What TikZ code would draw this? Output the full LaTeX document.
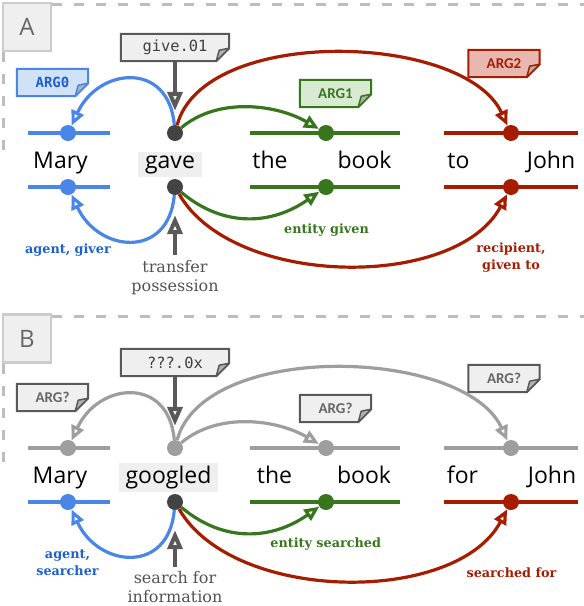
\documentclass[tikz,border=0pt]{standalone}
\usepackage{fontspec}
\usepackage{tikz}
\usetikzlibrary{arrows.meta}
\usetikzlibrary{backgrounds}

\newfontfamily\wordfont{Open Sans}
\newfontfamily\glossfont{DejaVu Serif}
\newfontfamily\framefont{DejaVu Sans Mono}
\newfontfamily\argfont{Carlito}

\definecolor{argblue}{HTML}{4A86E8}
\definecolor{argbluetext}{HTML}{1C5FD0}
\definecolor{argbluefill}{HTML}{CFE2F8}
\definecolor{arggreen}{HTML}{38761D}
\definecolor{arggreenfill}{HTML}{D9EAD3}
\definecolor{argred}{HTML}{A61C00}
\definecolor{argredfill}{HTML}{E6B8AF}
\definecolor{dotgray}{HTML}{434343}
\definecolor{arrowgray}{HTML}{595959}
\definecolor{faint}{HTML}{9E9E9E}
\definecolor{boxfill}{HTML}{EFEFEF}
\definecolor{dashgray}{HTML}{BDBDBD}

% note with a folded corner: name, centre, node options, text, fill, line
\newcommand{\argnote}[6]{%
  \node[notebox,#3] (#1) at (#2) {#4};
  \begin{scope}[on background layer]
    \filldraw[line width=2,fill=#5,draw=#6,line join=miter]
      (#1.north west) -- (#1.north east) -- ([yshift=13]#1.south east)
      -- ([xshift=-13]#1.south east) -- (#1.south west) -- cycle;
    \filldraw[line width=1.5,fill=black!30,draw=#6,line join=round]
      ([yshift=13]#1.south east) -- ([xshift=-10,yshift=11]#1.south east)
      -- ([xshift=-13]#1.south east) -- cycle;
  \end{scope}}

\begin{document}
\begin{tikzpicture}[x=1pt,y=1pt,
  wordline/.style={line width=3.2},
  worddot/.style={circle,inner sep=0,minimum size=16},
  rolearc/.style={line width=3.2,-{Triangle[open,length=15pt,width=13pt]}},
  framearrow/.style={line width=4,arrowgray,-{Triangle[open,length=19pt,width=15pt]}},
  word/.style={font=\wordfont\fontsize{23}{23}\selectfont,inner sep=0,anchor=base},
  verb/.style={word,fill=boxfill,inner xsep=7,inner ysep=3},
  notebox/.style={inner sep=0,minimum height=27,minimum width=71,font=\argfont\bfseries\fontsize{15}{15}\selectfont},
  gloss/.style={font=\glossfont\bfseries\fontsize{12.8}{17}\selectfont,align=center,inner sep=0},
  sense/.style={font=\glossfont\fontsize{16}{19.5}\selectfont,align=center,inner sep=0,text=black!68},
  dashframe/.style={dashgray,line width=3,dash pattern=on 10pt off 12pt},
  panelbox/.style={draw=black!20,line width=2.5,fill=boxfill,minimum size=48,inner sep=0,font=\wordfont\fontsize{24}{24}\selectfont,text=black!60}]
\useasboundingbox (0,0) rectangle (584,-606);

%%% panel A
\draw[dashframe] (52,-4) -- (584,-4);
\draw[dashframe] (3.5,-52) -- (3.5,-155);
\node[panelbox] (panA) at (27,-27) {A};

\argnote{senseA}{175,-47.5}{minimum width=108,font=\framefont\fontsize{15.4}{15.4}\selectfont,text=black!75}{give.01}{boxfill}{arrowgray}
\argnote{argzA}{52.5,-82.5}{font=\framefont\bfseries\fontsize{14}{14}\selectfont,text=argbluetext}{ARG0}{argbluefill}{argblue}
\argnote{argoA}{335.5,-93.5}{text=arggreen}{ARG1}{arggreenfill}{arggreen}
\argnote{argtA}{504,-63.5}{text=argred}{ARG2}{argredfill}{argred}

\node[word] (maryA) at (60.5,-168) {Mary};
\node[verb] (gaveA) at (170,-168) {gave};
\node[word] (theA) at (270,-168) {the};
\node[word] (bookA) at (364.5,-168) {book};
\node[word] (toA) at (458.5,-168) {to};
\node[word] (johnA) at (551,-168) {John};

\draw[wordline,argblue] (28,-133) -- (110,-133);
\draw[wordline,arggreen] (250,-133) -- (400,-133);
\draw[wordline,argred] (444,-133) -- (578,-133);
\draw[wordline,argblue] (28,-187) -- (110,-187);
\draw[wordline,arggreen] (250,-187) -- (400,-187);
\draw[wordline,argred] (444,-187) -- (578,-187);

\node[worddot,fill=argblue] (mA1) at (68,-133) {};
\node[worddot,fill=dotgray] (gA1) at (175,-133) {};
\node[worddot,fill=arggreen] (bA1) at (326,-133) {};
\node[worddot,fill=argred] (jA1) at (511,-133) {};
\node[worddot,fill=argblue] (mA2) at (68,-187) {};
\node[worddot,fill=dotgray] (gA2) at (175,-187) {};
\node[worddot,fill=arggreen] (bA2) at (326,-187) {};
\node[worddot,fill=argred] (jA2) at (511,-187) {};

\draw[rolearc,argblue] (gA1) to[out=95,in=65,looseness=1.6] (mA1);
\draw[rolearc,argred] (gA1) to[out=75,in=115,looseness=0.8] (jA1);
\draw[rolearc,arggreen] (gA1) to[out=40,in=150,looseness=0.9] (bA1);
\draw[rolearc,argblue] (gA2) to[out=-95,in=-65,looseness=1.6] (mA2);
\draw[rolearc,arggreen] (gA2) to[out=-40,in=-145,looseness=1.05] (bA2);
\draw[rolearc,argred] (gA2) to[out=-60,in=-118,looseness=0.85] (jA2);

\node[gloss,text=argbluetext,anchor=base] (agentA) at (68,-253) {agent, giver};
\node[gloss,text=arggreen,anchor=base] (themeA) at (326.5,-233) {entity given};
\node[gloss,text=argred,anchor=north] (recipA) at (511,-243) {recipient,\\given to};
\node[sense,anchor=north] (transA) at (175,-260) {transfer\\possession};

\draw[framearrow,shorten >=14pt] (senseA.south) -- (gA1);
\draw[framearrow,shorten <=5pt,shorten >=20pt] (transA.north) -- (gA2);

%%% panel B
\draw[dashframe] (52,-316) -- (584,-316);
\draw[dashframe] (3.5,-364) -- (3.5,-465);
\node[panelbox] (panB) at (27,-338.5) {B};

\argnote{senseB}{175,-362.5}{minimum width=108,font=\framefont\fontsize{15.4}{15.4}\selectfont,text=black!75}{???.0x}{boxfill}{arrowgray}
\argnote{argzB}{52.5,-397.5}{text=black!60}{ARG?}{boxfill}{arrowgray}
\argnote{argoB}{335.5,-408.5}{text=black!60}{ARG?}{boxfill}{arrowgray}
\argnote{argtB}{504,-378.5}{text=black!60}{ARG?}{boxfill}{arrowgray}

\node[word] (maryB) at (60,-483) {Mary};
\node[verb] (googledB) at (168.5,-483) {googled};
\node[word] (theB) at (274.5,-483) {the};
\node[word] (bookB) at (364,-483) {book};
\node[word] (forB) at (462.5,-483) {for};
\node[word] (johnB) at (552,-483) {John};

\draw[wordline,faint] (28,-448) -- (110,-448);
\draw[wordline,faint] (250,-448) -- (400,-448);
\draw[wordline,faint] (444,-448) -- (578,-448);
\draw[wordline,argblue] (28,-502) -- (110,-502);
\draw[wordline,arggreen] (250,-502) -- (400,-502);
\draw[wordline,argred] (444,-502) -- (578,-502);

\node[worddot,fill=faint] (mB1) at (68,-448) {};
\node[worddot,fill=faint] (gB1) at (175,-448) {};
\node[worddot,fill=faint] (bB1) at (326,-448) {};
\node[worddot,fill=faint] (jB1) at (511,-448) {};
\node[worddot,fill=argblue] (mB2) at (68,-502) {};
\node[worddot,fill=dotgray] (gB2) at (175,-502) {};
\node[worddot,fill=arggreen] (bB2) at (326,-502) {};
\node[worddot,fill=argred] (jB2) at (511,-502) {};

\draw[rolearc,faint] (gB1) to[out=95,in=65,looseness=1.6] (mB1);
\draw[rolearc,faint] (gB1) to[out=75,in=115,looseness=0.8] (jB1);
\draw[rolearc,faint] (gB1) to[out=40,in=150,looseness=0.9] (bB1);
\draw[rolearc,argblue] (gB2) to[out=-95,in=-65,looseness=1.6] (mB2);
\draw[rolearc,arggreen] (gB2) to[out=-40,in=-145,looseness=1.05] (bB2);
\draw[rolearc,argred] (gB2) to[out=-60,in=-118,looseness=0.85] (jB2);

\node[gloss,text=argbluetext,anchor=north] (agentB) at (67.5,-550) {agent,\\searcher};
\node[gloss,text=arggreen,anchor=base] (themeB) at (325.7,-547) {entity searched};
\node[gloss,text=argred,anchor=base] (soughtB) at (511.5,-577) {searched for};
\node[sense,anchor=north] (searchB) at (175,-571) {search for\\information};

\draw[framearrow,shorten >=14pt] (senseB.south) -- (gB1);
\draw[framearrow,shorten <=4pt,shorten >=20pt] (searchB.north) -- (gB2);
\end{tikzpicture}
\end{document}
